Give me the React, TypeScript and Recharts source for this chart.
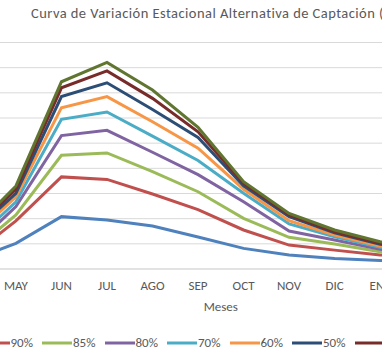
import React from 'react';
import { LineChart, Line, XAxis, YAxis, CartesianGrid, Legend } from 'recharts';

const meses = ['ABR', 'MAY', 'JUN', 'JUL', 'AGO', 'SEP', 'OCT', 'NOV', 'DIC', 'ENE', 'FEB', 'MAR'];
const q95 = [0.34, 1.02, 2.08, 1.95, 1.71, 1.27, 0.82, 0.56, 0.42, 0.34, 0.30, 0.30];
const q90 = [0.49, 1.91, 3.66, 3.56, 2.98, 2.36, 1.55, 0.95, 0.75, 0.56, 0.48, 0.46];
const q85 = [0.64, 2.15, 4.52, 4.61, 3.87, 3.07, 2.01, 1.26, 0.99, 0.69, 0.58, 0.55];
const q80 = [0.77, 2.48, 5.30, 5.51, 4.64, 3.75, 2.67, 1.51, 1.15, 0.78, 0.66, 0.62];
const q70 = [0.97, 2.67, 5.95, 6.24, 5.28, 4.31, 3.01, 1.79, 1.28, 0.86, 0.72, 0.68];
const q60 = [1.17, 2.87, 6.41, 6.85, 5.85, 4.80, 3.17, 1.92, 1.35, 0.91, 0.76, 0.72];
const q50 = [1.34, 3.01, 6.85, 7.40, 6.34, 5.23, 3.30, 2.08, 1.44, 0.98, 0.82, 0.78];
const q40 = [1.41, 3.17, 7.20, 7.87, 6.78, 5.45, 3.40, 2.15, 1.48, 1.02, 0.86, 0.82];
const q30 = [1.47, 3.30, 7.44, 8.21, 7.11, 5.63, 3.47, 2.21, 1.55, 1.08, 0.90, 0.86];

const seriesNames = ['95%', '90%', '85%', '80%', '70%', '60%', '50%', '40%', '30%'];
const seriesValues = [q95, q90, q85, q80, q70, q60, q50, q40, q30];
const seriesColors = ['#4F81BD', '#C0504D', '#9BBB59', '#8064A2', '#4BACC6', '#F79646', '#2C4D75', '#772C2A', '#5F7530'];
const yTicks = [0, 1, 2, 3, 4, 5, 6, 7, 8, 9];

const data = meses.map((m, i) => {
  const row: Record<string, string | number> = { mes: m };
  seriesNames.forEach((n, k) => {
    row[n] = seriesValues[k][i];
  });
  return row;
});

const FONT = 'Carlito, Calibri, Lato, sans-serif';
const TEXT = '#595959';

const renderLegend = (props: any) => {
  const payload = props.payload || [];
  const ordered = seriesNames
    .map((n) => payload.find((p: any) => p.value === n))
    .filter(Boolean);
  return (
    <div style={{ height: 20, lineHeight: '20px', whiteSpace: 'nowrap', fontFamily: FONT, fontSize: 13, color: TEXT }}>
      {ordered.map((p: any) => (
        <span key={p.value} style={{ display: 'inline-block', width: 62.5, height: 20, verticalAlign: 'top' }}>
          <svg width={30} height={20} style={{ verticalAlign: 'top' }}>
            <line x1={0} y1={10} x2={30} y2={10} stroke={p.color} strokeWidth={3} />
          </svg>
          <span style={{ marginLeft: 1 }}>{p.value}</span>
        </span>
      ))}
    </div>
  );
};

export default function App() {
  return (
    <div style={{ position: 'fixed', left: 0, top: 0, width: 382, height: 357, overflow: 'hidden', background: '#fff' }}>
      <div style={{ position: 'absolute', left: -100, top: 0 }}>
        <LineChart width={600} height={357} data={data} margin={{ top: 42.5, right: 28.8, bottom: 38, left: 70.4 }}>
          <CartesianGrid vertical={false} stroke="#d9d9d9" strokeWidth={1} />
          <XAxis
            dataKey="mes"
            interval={0}
            height={30}
            tickLine={false}
            tickSize={6}
            tickMargin={6}
            axisLine={{ stroke: '#d9d9d9', strokeWidth: 1 }}
            tick={{ fill: TEXT, fontSize: 13, fontFamily: FONT }}
            label={{ value: 'Meses', position: 'bottom', offset: 3, fill: TEXT, fontSize: 13, fontFamily: FONT }}
          />
          <YAxis hide domain={[0, 9]} ticks={yTicks} />
          <Legend
            verticalAlign="bottom"
            content={renderLegend}
            wrapperStyle={{ left: 17, top: 333, bottom: 'auto', width: 'auto' }}
          />
          {seriesNames.map((n, k) => (
            <Line
              key={n}
              type="linear"
              dataKey={n}
              name={n}
              stroke={seriesColors[k]}
              strokeWidth={3}
              dot={false}
              activeDot={false}
              isAnimationActive={false}
            />
          ))}
        </LineChart>
      </div>
      <div
        style={{
          position: 'absolute',
          left: 31,
          top: 6,
          fontFamily: FONT,
          fontSize: 14.5,
          letterSpacing: 0.45,
          fontVariantLigatures: 'none',
          lineHeight: 1,
          color: TEXT,
          whiteSpace: 'nowrap',
        }}
      >
        Curva de Variación Estacional Alternativa de Captación (m³/s)
      </div>
    </div>
  );
}
